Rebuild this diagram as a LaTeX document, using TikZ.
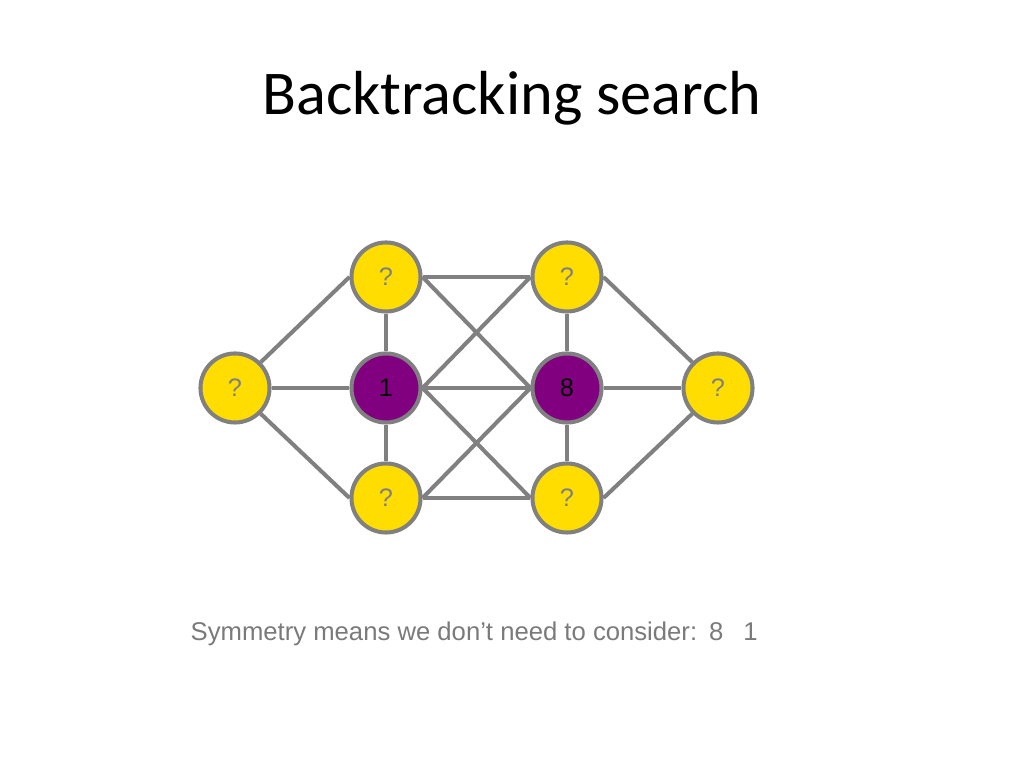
\documentclass[tikz,border=0pt]{standalone}
\usepackage{fontspec}
\setmainfont{Liberation Sans}
\newfontfamily\titlefont{Carlito}
\usetikzlibrary{calc}

\definecolor{qyellow}{RGB}{255,221,0}
\definecolor{qpurple}{RGB}{128,0,128}
\definecolor{qgray}{RGB}{128,128,128}

\begin{document}
\begin{tikzpicture}[%
x=0.01cm, y=-0.01cm,
vertex/.style={circle, draw=qgray, line width=1.15pt, minimum size=0.69cm, inner sep=0pt, font=\fontsize{7.2}{8}\selectfont},
free/.style={vertex, fill=qyellow, text=qgray},
taken/.style={vertex, fill=qpurple, text=black},
edge/.style={draw=qgray, line width=1.15pt},
]
\useasboundingbox (0,0) rectangle (1024,768);
%% title;
\node[font=\titlefont\fontsize{17.7}{20}\selectfont, anchor=base] (title) at (512,115) {Backtracking search};
%% vertices;
\node[free] (l) at (235,388) {?};
\node[free] (t1) at (386,277) {?};
\node[taken] (m1) at (386,388) {1};
\node[free] (b1) at (386,498) {?};
\node[free] (t2) at (567,277) {?};
\node[taken] (m2) at (567,388) {8};
\node[free] (b2) at (567,498) {?};
\node[free] (r) at (718,388) {?};
%% outer edges;
\draw[edge] (l.north east) -- (t1.west);
\draw[edge] (l.east) -- (m1.west);
\draw[edge] (l.south east) -- (b1.west);
\draw[edge] (t2.east) -- (r.north west);
\draw[edge] (m2.east) -- (r.west);
\draw[edge] (b2.east) -- (r.south west);
%% columns;
\foreach \a/\b in {t1/m1, m1/b1, t2/m2, m2/b2}
  \draw[edge] (\a.south) -- (\b.north);
%% middle block;
\foreach \a/\b in {t1/t2, t1/m2, m1/t2, m1/m2, m1/b2, b1/m2, b1/b2}
  \draw[edge] (\a.east) -- (\b.west);
%% note;
\node[anchor=base west, text=qgray!95!black, font=\fontsize{7.3}{9}\selectfont, inner sep=0pt] (note) at (190,641) {Symmetry means we don’t need to consider:\hspace{0.12cm}8\hspace{0.2cm}1};
\end{tikzpicture}
\end{document}
